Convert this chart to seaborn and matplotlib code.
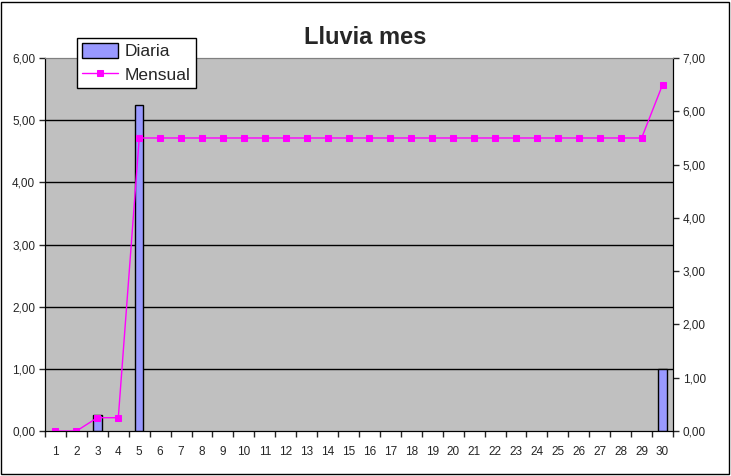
import pandas as pd
import numpy as np
import matplotlib.pyplot as plt
import seaborn as sns
from matplotlib.ticker import FuncFormatter
from matplotlib.patches import Rectangle, Patch

# daily rain and monthly accumulated rain
dias = list(range(1, 31))
diaria = [0, 0, 0.25, 0, 5.25, 0, 0, 0, 0, 0,
          0, 0, 0, 0, 0, 0, 0, 0, 0, 0,
          0, 0, 0, 0, 0, 0, 0, 0, 0, 1.0]
mensual = [0, 0, 0.25, 0.25, 5.5, 5.5, 5.5, 5.5, 5.5, 5.5,
           5.5, 5.5, 5.5, 5.5, 5.5, 5.5, 5.5, 5.5, 5.5, 5.5,
           5.5, 5.5, 5.5, 5.5, 5.5, 5.5, 5.5, 5.5, 5.5, 6.5]

df = pd.DataFrame({'Dia': dias, 'Diaria': diaria, 'Mensual': mensual})
df['pos'] = np.arange(len(df))

sns.set_style('white')
plt.rcParams['font.family'] = ['Liberation Sans', 'DejaVu Sans']

fig = plt.figure(figsize=(7.31, 4.76), dpi=100)
ax = fig.add_axes([0.0616, 0.0945, 0.8591, 0.7835])
ax.set_facecolor('#C0C0C0')

sns.barplot(x='Dia', y='Diaria', data=df, color='#9999FF', edgecolor='black',
            linewidth=1, width=0.4, saturation=1, ax=ax, zorder=3)
# hide empty days (no outline for zero bars)
for p in ax.patches:
    if p.get_height() == 0:
        p.set_visible(False)

ax.set_ylim(0, 6)
ax.set_xlim(-0.5, 29.5)
ax.set_yticks(np.arange(0, 7, 1))
ax.yaxis.set_major_formatter(FuncFormatter(lambda v, p: '{:.2f}'.format(v).replace('.', ',')))
for yv in range(1, 6):
    ax.axhline(yv, color='black', linewidth=1, zorder=1)
ax.set_xlabel('')
ax.set_ylabel('')
ax.tick_params(axis='both', labelsize=8.5, length=4, width=1, direction='out',
               left=True, bottom=False, pad=3)
ax.tick_params(axis='x', pad=7)
# category boundary ticks
ax.set_xticks(np.arange(-0.5, 30, 1), minor=True)
ax.tick_params(axis='x', which='minor', length=4, width=1, bottom=True, direction='out')

ax2 = ax.twinx()
sns.lineplot(x='pos', y='Mensual', data=df, color='#FF00FF', marker='s',
             markersize=4.5, markeredgecolor='#FF00FF', linewidth=1, ax=ax2,
             label='Mensual', legend=False)
ax2.set_ylim(0, 7)
ax2.set_xlim(-0.5, 29.5)
ax2.set_yticks(np.arange(0, 8, 1))
ax2.yaxis.set_major_formatter(FuncFormatter(lambda v, p: '{:.2f}'.format(v).replace('.', ',')))
ax2.set_ylabel('')
ax2.tick_params(axis='y', labelsize=8.5, length=4, width=1, direction='out', right=True, pad=3)

for a in (ax, ax2):
    a.spines['left'].set_color('black')
    a.spines['bottom'].set_color('black')
    a.spines['right'].set_color('black')
    a.spines['top'].set_color('#808080')

bar_handle = Patch(facecolor='#9999FF', edgecolor='black', linewidth=1)
h2, l2 = ax2.get_legend_handles_labels()
leg = fig.legend([bar_handle] + h2[:1], ['Diaria', 'Mensual'], loc='upper left',
                 bbox_to_anchor=(0.105, 0.920), fontsize=12.5, frameon=True,
                 fancybox=False, edgecolor='black', framealpha=1,
                 handlelength=2.1, handleheight=0.9, borderpad=0.3, labelspacing=0.4,
                 handletextpad=0.35, borderaxespad=0)
leg.get_frame().set_linewidth(1)

fig.text(0.5, 0.922, 'Lluvia mes', ha='center', va='center', fontsize=17, fontweight='bold')

fig.patches.append(Rectangle((0.002, 0.004), 0.995, 0.991, transform=fig.transFigure,
                             fill=False, edgecolor='black', linewidth=1))

plt.savefig('out.png', dpi=100)
